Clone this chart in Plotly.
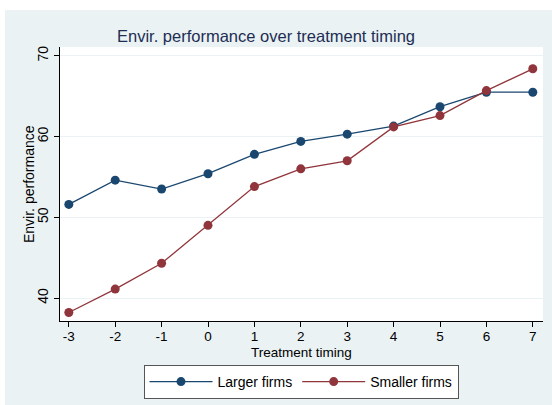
import plotly.graph_objects as go

timing = [-3, -2, -1, 0, 1, 2, 3, 4, 5, 6, 7]
larger_firms = [51.6, 54.6, 53.5, 55.4, 57.8, 59.4, 60.3, 61.3, 63.7, 65.5, 65.5]
smaller_firms = [38.2, 41.1, 44.3, 49.0, 53.8, 56.0, 57.0, 61.2, 62.6, 65.7, 68.4]
x_ticks = [-3, -2, -1, 0, 1, 2, 3, 4, 5, 6, 7]
y_ticks = [40, 50, 60, 70]

BG = "#EAF2F3"
NAVY = "#1A476F"
MAROON = "#90353B"
FONT = "Liberation Sans, Arial, sans-serif"

W, H = 552, 405
L, R, T, B = 60, 9, 47, 84
pw, ph = W - L - R, H - T - B

def px_x(p):
    return (p - L) / pw

def px_y(p):
    return (H - B - p) / ph

fig = go.Figure()
fig.add_trace(go.Scatter(x=timing, y=larger_firms, mode="lines+markers", name="Larger firms",
                         line=dict(color=NAVY, width=1.3),
                         marker=dict(color=NAVY, size=9, symbol="circle")))
fig.add_trace(go.Scatter(x=timing, y=smaller_firms, mode="lines+markers", name="Smaller firms",
                         line=dict(color=MAROON, width=1.3),
                         marker=dict(color=MAROON, size=9, symbol="circle")))

fig.update_layout(
    width=W, height=H,
    margin=dict(l=L, r=R, t=T, b=B, autoexpand=False),
    paper_bgcolor=BG, plot_bgcolor="white",
    font=dict(family=FONT, size=14, color="black"),
    showlegend=True,
    legend=dict(orientation="h", xref="container", yref="container",
                x=301 / W, xanchor="center", y=1 - 365 / H, yanchor="top",
                bgcolor="white", bordercolor="#555555", borderwidth=1,
                font=dict(size=14, color="black"), itemwidth=63,
                tracegroupgap=0),
    shapes=[
        dict(type="rect", xref="paper", yref="paper", x0=px_x(0), x1=px_x(W), y0=px_y(10), y1=px_y(0),
             fillcolor="white", line=dict(width=0), layer="below"),
        dict(type="rect", xref="paper", yref="paper", x0=px_x(0), x1=px_x(5), y0=px_y(H), y1=px_y(0),
             fillcolor="white", line=dict(width=0), layer="below"),
    ],
    annotations=[
        dict(text="Envir. performance over treatment timing", xref="paper", yref="paper",
             x=px_x(266), y=px_y(36), xanchor="center", yanchor="middle", showarrow=False,
             font=dict(size=16.5, color="#1E2D53", family=FONT)),
        dict(text="Envir. performance", xref="paper", yref="paper",
             x=px_x(29), y=px_y(184), xanchor="center", yanchor="middle", showarrow=False,
             textangle=-90, font=dict(size=14, color="black", family=FONT)),
        dict(text="Treatment timing", xref="paper", yref="paper",
             x=px_x(301), y=px_y(352.5), xanchor="center", yanchor="middle", showarrow=False,
             font=dict(size=13.5, color="black", family=FONT)),
    ],
)

fig.update_xaxes(range=[-3.19, 7.22], tickvals=x_ticks, ticktext=[str(v) for v in x_ticks],
                 showgrid=False, zeroline=False, showline=True, linecolor="black", linewidth=1,
                 ticks="outside", ticklen=5, tickcolor="black", ticklabelstandoff=-2,
                 tickfont=dict(size=13.5))
fig.update_yaxes(range=[37.15, 71.1], tickvals=y_ticks, ticktext=[str(v) for v in y_ticks],
                 showgrid=True, gridcolor=BG, gridwidth=1, zeroline=False,
                 showline=True, linecolor="black", linewidth=1,
                 ticks="outside", ticklen=5, tickcolor="black", tickangle=-90,
                 tickfont=dict(size=14))

fig.write_html("out.html")
